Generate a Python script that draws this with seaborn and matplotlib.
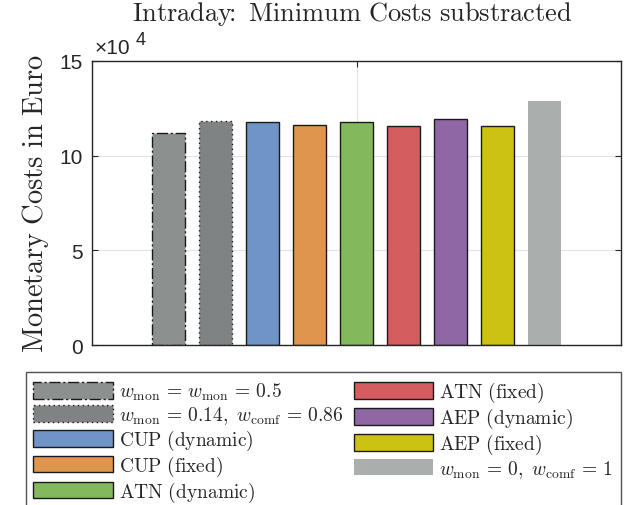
import matplotlib
matplotlib.use("Agg")
import matplotlib.pyplot as plt
import seaborn as sns
import pandas as pd
from matplotlib.ticker import FuncFormatter

labels = [
    r"$w_{\mathrm{mon}}\,=\,w_{\mathrm{mon}}\,=\,0.5$",
    r"$w_{\mathrm{mon}}\,=\,0.14,\ w_{\mathrm{comf}}\,=\,0.86$",
    r"$\mathrm{CUP\ (dynamic)}$",
    r"$\mathrm{CUP\ (fixed)}$",
    r"$\mathrm{ATN\ (dynamic)}$",
    r"$\mathrm{ATN\ (fixed)}$",
    r"$\mathrm{AEP\ (dynamic)}$",
    r"$\mathrm{AEP\ (fixed)}$",
    r"$w_{\mathrm{mon}}\,=\,0,\ w_{\mathrm{comf}}\,=\,1$",
]
costs = [111800, 118200, 117600, 116200, 117600, 115700, 119200, 115700, 128900]
colors = ["#8c9190", "#7f8383", "#7093c8", "#e0954e", "#84b85c",
          "#d45d5f", "#8f67a5", "#cbc213", "#aaafae"]
yticks = [0, 50000, 100000, 150000]

sns.set_style("white")
plt.rcParams["mathtext.fontset"] = "cm"
plt.rcParams["font.family"] = ["Liberation Sans", "DejaVu Sans"]

df = pd.DataFrame({"label": labels, "cost": costs})

fig = plt.figure(figsize=(6.43, 5.06), dpi=100)
ax = fig.add_axes([0.1435, 0.316, 0.822, 0.562])
sns.barplot(data=df, x="label", y="cost", hue="label", palette=colors,
            width=0.7, dodge=False, legend=False, ax=ax, saturation=1)

styles = [(0, (8, 2, 1.5, 2)), (0, (1, 2.5)), "-", "-", "-", "-", "-", "-", "-"]
bars = ax.patches[:len(labels)]
for i, p in enumerate(bars):
    if i == len(labels) - 1:
        p.set_edgecolor("none")
        p.set_linewidth(0)
    else:
        p.set_edgecolor("#1a1a1a")
        p.set_linewidth(1.0)
        p.set_linestyle(styles[i])
    p.set_label(labels[i])

ax.set_xlim(-1.62, 9.62)
ax.set_ylim(0, 150000)
ax.set_xticks([4])
ax.set_xticklabels([""])
ax.set_yticks(yticks)
ax.yaxis.set_major_formatter(FuncFormatter(lambda v, p: f"{v/1e4:g}"))
ax.set_xlabel("")
ax.grid(True, color="#e3e3e3", linewidth=0.8)
ax.set_axisbelow(True)
ax.tick_params(axis="y", direction="in", length=4, labelsize=15, color="#262626",
               left=True, right=True, pad=7)
ax.tick_params(axis="x", direction="in", length=4, top=True, bottom=True, color="#262626")
for s in ax.spines.values():
    s.set_color("#262626")
    s.set_linewidth(1.0)

ax.set_ylabel(r"$\mathrm{Monetary\ Costs\ in\ Euro}$", fontsize=20.5, labelpad=6)
fig.text(0.548, 1 - 21.0 / 506, r"$\mathrm{Intraday}\!\!:\ \mathrm{Minimum\ Costs\ substracted}$",
         fontsize=19, ha="center", va="baseline")
ax.text(0.005, 1.012, "×10", transform=ax.transAxes, fontsize=15, ha="left", va="bottom", color="#262626")
ax.text(0.082, 1.045, "4", transform=ax.transAxes, fontsize=13, ha="left", va="bottom", color="#262626")

handles = [bars[i] for i in range(len(labels))]
leg = fig.legend(handles, labels, ncol=2, loc="upper left",
                 bbox_to_anchor=(25.7 / 643, 1 - 373.3 / 506, (621 - 25.7) / 643, 0), mode="expand",
                 fontsize=14, frameon=True, fancybox=False, edgecolor="#262626",
                 handlelength=4.1, handleheight=0.95, labelspacing=0.09,
                 columnspacing=0.4, handletextpad=0.3, borderpad=0.4, borderaxespad=0)
leg.get_frame().set_linewidth(1.0)

fig.savefig("out.png", dpi=100)
